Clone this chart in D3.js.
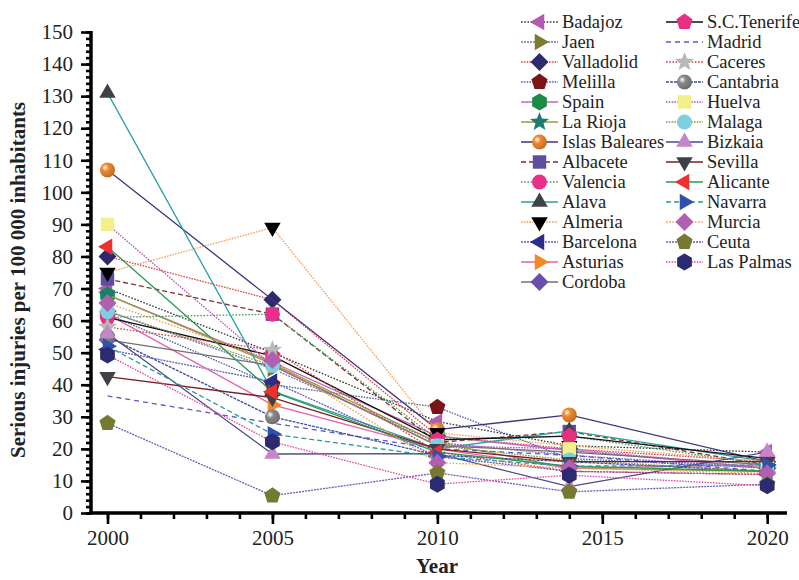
<!DOCTYPE html>
<html><head><meta charset="utf-8">
<script src="https://cdn.jsdelivr.net/npm/d3@7"></script>
<style>body{margin:0;background:#fff}svg{display:block}</style>
</head><body><svg id="c" width="799" height="580"></svg>
<script>
const years = [2000, 2005, 2010, 2014, 2020];
const seriesNames = ["Badajoz","Jaen","Valladolid","Melilla","Spain","La Rioja","Islas Baleares","Albacete","Valencia","Alava","Almeria","Barcelona","Asturias","Cordoba","S.C.Tenerife","Madrid","Caceres","Cantabria","Huelva","Malaga","Bizkaia","Sevilla","Alicante","Navarra","Murcia","Ceuta","Las Palmas"];
const yTicks = [0,10,20,30,40,50,60,70,80,90,100,110,120,130,140,150];
const xTicks = [2000,2005,2010,2015,2020];
const badajoz      = [70, 50, 28.5, 21, 19];
const jaen         = [63, 45, 22, 18, 14];
const valladolid   = [80, 66.5, 24, 20, 16];
const melilla      = [62, 40, 33, 17, 14];
const spain        = [68, 47, 24, 19.5, 14];
const laRioja      = [68, 46.5, 22, 14, 13];
const islasBaleares= [107, null, 26, 30.6, 16];
const albacete     = [73, 62, 22, 25.4, 15];
const valencia     = [61, 62, 23, 24, 15];
const alava        = [131, 38, 20, 25.6, 16];
const almeria      = [75, 89, 25, 21, 16];
const barcelona    = [51, 41, 17.6, 13, 12];
const asturias     = [62, 33.7, 20, 14, 15];
const cordoba      = [54, 46, 21, 19, 15];
const scTenerife   = [61, 49, 22.8, 24, 17];
const madrid       = [36.5, 28, 20, 18, 13];
const caceres      = [58, 50.8, 19, 13, 12];
const cantabria    = [55, 30, 18, 16, 13];
const huelva       = [90, 46, 21, 20, 14];
const malaga       = [62.8, 46, 21, 16.5, 13];
const bizkaia      = [56, 18.4, 18.5, 8.2, 19];
const sevilla      = [42.5, 36, 20, 16, 16];
const alicante     = [83, 37.8, 19, 14.6, 13];
const navarra      = [52, 24.6, 17.6, 14.6, 15];
const murcia       = [65.5, 47.7, 15.7, 14, 12.4];
const ceuta        = [28, 5.4, 12.5, 6.6, 9];
const lasPalmas    = [49.3, 22.2, 9, 11.8, 8.5];
const seriesValues = [badajoz,jaen,valladolid,melilla,spain,laRioja,islasBaleares,albacete,valencia,alava,almeria,barcelona,asturias,cordoba,scTenerife,madrid,caceres,cantabria,huelva,malaga,bizkaia,sevilla,alicante,navarra,murcia,ceuta,lasPalmas];

// styles: [lineColor, dash, markerShape, markerColor]
const styles = [
 ["#333","1.6,1.6","tl","#b25bb0"],
 ["#7a6fc0","2,1","tr","#7b7b2e"],
 ["#e8403a","1.6,1.2","dia","#2f2a6b"],
 ["#4a60b0","1.6,1.2","pent","#7a1416"],
 ["#c06ac0",null,"hex","#1d8a45"],
 ["#9a9a3a",null,"star","#1b7a72"],
 ["#3d3580",null,"sphere","#f08a30"],
 ["#8b2a2a","5,3","sq","#5e4ea0"],
 ["#3aa060","1.6,1.6","circ","#e8308a"],
 ["#2aa0a0",null,"tu","#3e4247"],
 ["#f4a060","1.6,1.2","td","#000000"],
 ["#6a5cc0","2,1","tl","#2c2e8a"],
 ["#e860a8",null,"tr","#f4892a"],
 ["#707070",null,"dia","#6a4fb0"],
 ["#111111",null,"pent","#e83080"],
 ["#5a5ac8","5,4","none","none"],
 ["#e03a3a","1.6,1.6","star","#b8b8b8"],
 ["#3c4fa0","3,1","sphere","#8a8a8a"],
 ["#b058b0","1.6,1.2","sq","#f3f08a"],
 ["#8f9040","1.6,1.2","circ","#7dd0e0"],
 ["#4a4a90",null,"tu","#c585c8"],
 ["#7a1f1f",null,"td","#3e4247"],
 ["#2a9a50",null,"tl","#f03030"],
 ["#2a9a9a","5,3","tr","#3050b0"],
 ["#f0a050","1.6,1.6","dia","#b060b0"],
 ["#6a5cc0","2,1","pent","#767a30"],
 ["#e44a9a","1.6,1.2","hex","#2c2a70"]
];

const svg = d3.select("#c");
const x = d3.scaleLinear().domain([1999.5, 2020.6]).range([91, 787]);
const y = d3.scaleLinear().domain([0, 150]).range([513, 32]);

const defs = svg.append("defs");
function sphereGrad(id, col){
  const g = defs.append("radialGradient").attr("id", id).attr("cx","35%").attr("cy","35%").attr("r","65%");
  g.append("stop").attr("offset","0%").attr("stop-color","#fff");
  g.append("stop").attr("offset","35%").attr("stop-color",col);
  g.append("stop").attr("offset","100%").attr("stop-color",d3.color(col).darker(0.6));
}

function poly(n, r, rotDeg){
  const pts = [];
  for (let i=0;i<n;i++){
    const a = (-90 + rotDeg + i*360/n) * Math.PI/180;
    pts.push([r*Math.cos(a), r*Math.sin(a)]);
  }
  return "M" + pts.map(p=>p[0].toFixed(2)+","+p[1].toFixed(2)).join("L") + "Z";
}
function star(r){
  const pts=[];
  for(let i=0;i<10;i++){
    const rr = i%2===0 ? r : r*0.42;
    const a = (-90 + i*36)*Math.PI/180;
    pts.push([rr*Math.cos(a), rr*Math.sin(a)]);
  }
  return "M" + pts.map(p=>p[0].toFixed(2)+","+p[1].toFixed(2)).join("L") + "Z";
}
function drawMarker(g, shape, col, cx, cy, idx){
  if (shape === "none") return;
  let el;
  if (shape === "circ" || shape === "sphere") {
    el = g.append("circle").attr("r", 7.5).attr("cx", cx).attr("cy", cy);
  } else {
    let d;
    switch(shape){
      case "tl": d = poly(3, 9.5, 270); break;
      case "tr": d = poly(3, 9.5, 90); break;
      case "tu": d = poly(3, 9.5, 0); break;
      case "td": d = poly(3, 9.5, 180); break;
      case "dia": d = poly(4, 9, 0); break;
      case "sq": d = poly(4, 9.5, 45); break;
      case "pent": d = poly(5, 8.5, 0); break;
      case "hex": d = poly(6, 8.5, 0); break;
      case "star": d = star(10); break;
    }
    el = g.append("path").attr("d", d).attr("transform", `translate(${cx},${cy})`);
  }
  el.attr("fill", shape==="sphere" ? `url(#sph${idx})` : col).attr("stroke","none");
}

styles.forEach((s,i)=>{ if (s[2]==="sphere") sphereGrad("sph"+i, s[3]); });

// axes
const font = "'Liberation Serif', 'DejaVu Serif', serif";
const yAxisMinor = d3.axisLeft(y).tickValues(d3.range(0,151,2)).tickSize(5).tickFormat("");
const yAxis = d3.axisLeft(y).tickValues(yTicks).tickSize(10).tickPadding(8);
const xAxisMinor = d3.axisBottom(x).tickValues(d3.range(2000,2021,1)).tickSize(6).tickFormat("");
const xAxis = d3.axisBottom(x).tickValues(xTicks).tickSize(11).tickPadding(6).tickFormat(d3.format("d"));

const gy1 = svg.append("g").attr("transform","translate(91,0)").call(yAxisMinor);
const gy2 = svg.append("g").attr("transform","translate(91,0)").call(yAxis);
const gx1 = svg.append("g").attr("transform","translate(0,513)").call(xAxisMinor);
const gx2 = svg.append("g").attr("transform","translate(0,513)").call(xAxis);
[gy1,gy2,gx1,gx2].forEach(g=>{
  g.selectAll(".domain").attr("stroke","#000").attr("stroke-width",3.5);
  g.selectAll(".tick line").attr("stroke","#000").attr("stroke-width",2.6);
  g.selectAll("text").attr("font-family",font).attr("font-size",21).attr("fill","#222");
});
gy2.select(".domain").attr("d", `M-0,${y(150)-1}V${y(0)+1.5}H0`);
gx2.select(".domain").attr("d", `M${x.range()[0]-1.5},0H${x.range()[1]}`);
gy1.select(".domain").remove(); gx1.select(".domain").remove();

svg.append("text").attr("transform","translate(25,280) rotate(-90)")
  .attr("text-anchor","middle").attr("font-family",font).attr("font-weight","bold")
  .attr("font-size",21).attr("fill","#222").text("Serious injuries per 100 000 inhabitants");
svg.append("text").attr("x",437).attr("y",573).attr("text-anchor","middle")
  .attr("font-family",font).attr("font-weight","bold").attr("font-size",21).attr("fill","#222").text("Year");

// series
const line = d3.line().x(d=>x(d[0])).y(d=>y(d[1]));
const plot = svg.append("g");
seriesValues.forEach((vals,i)=>{
  const s = styles[i];
  const pts = years.map((yr,j)=>[yr, vals[j]]).filter(d=>d[1]!=null);
  const g = plot.append("g");
  g.append("path").datum(pts).attr("d", line).attr("fill","none")
    .attr("stroke", s[0]).attr("stroke-width",1.3).attr("stroke-dasharray", s[1]);
  pts.forEach(p=>drawMarker(g, s[2], s[3], x(p[0]), y(p[1]), i));
});

// legend
const leg = svg.append("g");
seriesNames.forEach((name,i)=>{
  const s = styles[i];
  const col = i < 14 ? 0 : 1;
  const row = i < 14 ? i : i - 14;
  const lx = col===0 ? 521 : 666;
  const ly = 22 + row*20;
  const g = leg.append("g");
  g.append("line").attr("x1",lx).attr("x2",lx+37).attr("y1",ly).attr("y2",ly)
    .attr("stroke",s[0]).attr("stroke-width",1.3).attr("stroke-dasharray", s[1]);
  drawMarker(g, s[2], s[3], lx+18.5, ly, i);
  g.append("text").attr("x", lx+41).attr("y", ly+6).attr("font-family",font)
    .attr("font-size",18.5).attr("fill","#222").text(name);
});
</script></body></html>
